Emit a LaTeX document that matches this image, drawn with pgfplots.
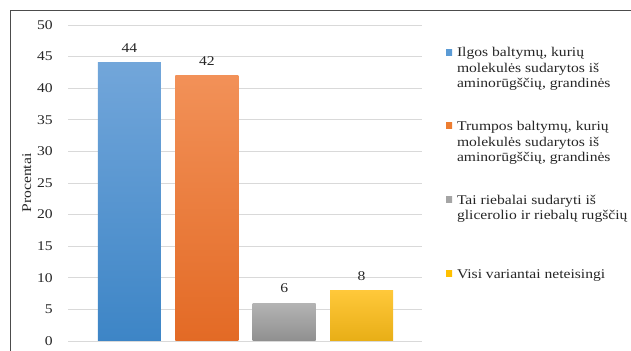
\documentclass[border=0pt]{standalone}
\usepackage{fontspec}
\setmainfont{Liberation Serif}[FakeStretch=1.17]
\usepackage{pgfplots}
\pgfplotsset{compat=1.18}
\definecolor{cBlue}{HTML}{5B9BD5}
\definecolor{cBlueT}{HTML}{72A6DA}
\definecolor{cBlueB}{HTML}{3D85C6}
\definecolor{cOrange}{HTML}{ED7D31}
\definecolor{cOrangeT}{HTML}{F29158}
\definecolor{cOrangeB}{HTML}{E36A25}
\definecolor{cGray}{HTML}{A5A5A5}
\definecolor{cGrayT}{HTML}{B4B4B4}
\definecolor{cGrayB}{HTML}{8F8F8F}
\definecolor{cYellow}{HTML}{FFC000}
\definecolor{cYellowT}{HTML}{FFC83A}
\definecolor{cYellowB}{HTML}{E8AE16}
\begin{document}
\begin{tikzpicture}
\useasboundingbox (0,0) rectangle (631bp,351bp);
\draw[black!70, line width=0.8bp] (10bp,0) -- (10bp,341bp) -- (631bp,341bp);
\begin{axis}[
  at={(68bp,10bp)}, anchor=south west,
  scale only axis, width=354bp, height=316bp,
  xmin=-0.795, xmax=3.782, ymin=0, ymax=50,
  ytick={0,5,...,50}, xtick=\empty,
  axis line style={draw=none}, major tick length=0pt,
  ymajorgrids, major grid style={color=black!15, line width=0.75bp},
  font=\fontsize{13.4}{15.5}\selectfont,
  /pgf/number format/assume math mode=true,
  yticklabel style={anchor=east, inner sep=0pt, xshift=-15bp, text=black!85},
  ylabel={Procentai},
  every axis y label/.style={at={(axis description cs:-0.1167,0.5)}, rotate=90, anchor=center, text=black!85},
  ybar, bar width=63bp, bar shift=0pt,
  nodes near coords,
  nodes near coords style={anchor=base, inner sep=0pt, yshift=10.2bp, text=black!85},
  legend cell align=left,
  legend style={at={(axis description cs:1.0678,0.9304)}, anchor=north west,
    draw=none, fill=none, inner sep=0pt, outer sep=0pt,
    column sep=5bp, row sep=0pt,
    cells={anchor=base west},
    nodes={inner sep=0pt, text height=10bp, text depth=63.7bp, text=black!85}},
]
\addplot[draw=none, top color=cBlueT, bottom color=cBlueB,
  legend image code/.code={\path[top color=cBlue, bottom color=cBlue] (0bp,1.7bp) rectangle (6bp,7.7bp);}]
  coordinates {(0,44)};
\addlegendentry{\parbox[t]{200bp}{Ilgos baltymų, kurių\\molekulės sudarytos iš\\aminorūgščių, grandinės}}
\addplot[draw=none, top color=cOrangeT, bottom color=cOrangeB,
  legend image code/.code={\path[top color=cOrange, bottom color=cOrange] (0bp,1.7bp) rectangle (6bp,7.7bp);}]
  coordinates {(1,42)};
\addlegendentry{\parbox[t]{200bp}{Trumpos baltymų, kurių\\molekulės sudarytos iš\\aminorūgščių, grandinės}}
\addplot[draw=none, top color=cGrayT, bottom color=cGrayB,
  legend image code/.code={\path[top color=cGray, bottom color=cGray] (0bp,1.7bp) rectangle (6bp,7.7bp);}]
  coordinates {(2,6)};
\addlegendentry{\parbox[t]{200bp}{Tai riebalai sudaryti iš\\glicerolio ir riebalų rugščių}}
\addplot[draw=none, top color=cYellowT, bottom color=cYellowB,
  legend image code/.code={\path[top color=cYellow, bottom color=cYellow] (0bp,1.7bp) rectangle (6bp,7.7bp);}]
  coordinates {(3,8)};
\addlegendentry{\parbox[t]{200bp}{Visi variantai neteisingi}}
\end{axis}
\end{tikzpicture}
\end{document}
